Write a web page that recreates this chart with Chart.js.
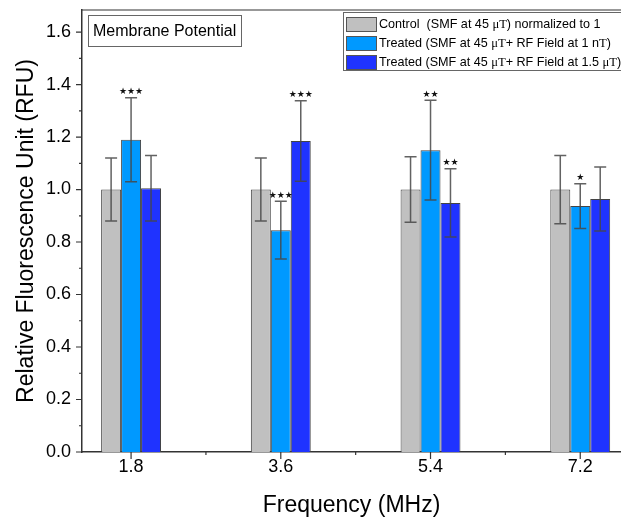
<!DOCTYPE html>
<html>
<head>
<meta charset="utf-8">
<script src="https://cdn.jsdelivr.net/npm/chart.js@4"></script>
<style>
  html, body { margin: 0; padding: 0; background: #fff; }
  #wrap { width: 621px; height: 522px; }
</style>
</head>
<body>
<div id="wrap"><canvas id="myChart" width="621" height="522"></canvas></div>
<script>
// values
const frequencies = [1.8, 3.6, 5.4, 7.2];
const controlMean = [1.0, 1.0, 1.0, 1.0];
const controlErr = [0.12, 0.12, 0.125, 0.13];
const nTMean = [1.19, 0.845, 1.15, 0.937];
const nTErr = [0.16, 0.11, 0.19, 0.085];
const uTMean = [1.005, 1.185, 0.949, 0.964];
const uTErr = [0.125, 0.153, 0.13, 0.122];
const controlStars = ['', '', '', ''];
const nTStars = ['***', '***', '**', '*'];
const uTStars = ['', '***', '**', ''];
const yTicks = [0, 0.2, 0.4, 0.6, 0.8, 1.0, 1.2, 1.4, 1.6];
const yMinorTicks = [0.1, 0.3, 0.5, 0.7, 0.9, 1.1, 1.3, 1.5];
const xMinorTicks = [2.7, 4.5, 6.3];

const SANS = '"Liberation Sans", Arial, sans-serif';
const SERIF = '"Liberation Serif", "Times New Roman", serif';
const AXIS = '#333';

const legendRows = [
  { color: '#c0c0c0', parts: [['Control  (SMF at 45 ', SANS], ['\u03bcT', SERIF], [') normalized to 1', SANS]] },
  { color: '#0099ff', parts: [['Treated (SMF at 45 ', SANS], ['\u03bcT', SERIF], ['+ RF Field at 1 n', SANS], ['T', SERIF], [')', SANS]] },
  { color: '#1f33ff', parts: [['Treated (SMF at 45 ', SANS], ['\u03bcT', SERIF], ['+ RF Field at 1.5 ', SANS], ['\u03bcT', SERIF], [')', SANS]] }
];

function series(means) {
  return means.map((v, i) => ({ x: frequencies[i], y: v }));
}

const errs = [controlErr, nTErr, uTErr];
const stars = [controlStars, nTStars, uTStars];

const extras = {
  id: 'extras',
  afterDatasetsDraw(chart) {
    const ctx = chart.ctx;
    const xs = chart.scales.x, ys = chart.scales.y;
    const area = chart.chartArea;
    ctx.save();
    // error bars
    chart.data.datasets.forEach((ds, di) => {
      const meta = chart.getDatasetMeta(di);
      meta.data.forEach((bar, i) => {
        const v = ds.data[i].y, e = errs[di][i];
        const yt = ys.getPixelForValue(v + e), yb = ys.getPixelForValue(v - e);
        ctx.strokeStyle = 'rgba(70,70,70,0.85)';
        ctx.lineWidth = 1.5;
        ctx.beginPath();
        ctx.moveTo(bar.x, yt); ctx.lineTo(bar.x, yb);
        ctx.moveTo(bar.x - 6, yt); ctx.lineTo(bar.x + 6, yt);
        ctx.moveTo(bar.x - 6, yb); ctx.lineTo(bar.x + 6, yb);
        ctx.stroke();
        const s = stars[di][i];
        if (s) {
          ctx.fillStyle = '#111';
          ctx.font = '9px "DejaVu Sans"';
          ctx.textAlign = 'center';
          ctx.textBaseline = 'middle';
          ctx.fillText(s.replace(/\*/g, '\u2605'), bar.x, yt - 6);
        }
      });
    });
    // tick marks
    ctx.strokeStyle = AXIS;
    ctx.lineWidth = 1.2;
    ctx.beginPath();
    yTicks.forEach(v => { const y = ys.getPixelForValue(v); ctx.moveTo(area.left - 6, y); ctx.lineTo(area.left, y); });
    yMinorTicks.forEach(v => { const y = ys.getPixelForValue(v); ctx.moveTo(area.left - 3, y); ctx.lineTo(area.left, y); });
    frequencies.forEach(v => { const x = xs.getPixelForValue(v); ctx.moveTo(x, area.bottom); ctx.lineTo(x, area.bottom + 7); });
    xMinorTicks.forEach(v => { const x = xs.getPixelForValue(v); ctx.moveTo(x, area.bottom); ctx.lineTo(x, area.bottom + 3); });
    // top frame
    ctx.moveTo(area.left, area.top); ctx.lineTo(area.right, area.top);
    ctx.stroke();

    // title box
    ctx.fillStyle = '#fff';
    ctx.strokeStyle = '#666';
    ctx.lineWidth = 1;
    ctx.fillRect(88.5, 15.5, 153, 31);
    ctx.strokeRect(88.5, 15.5, 153, 31);
    ctx.fillStyle = '#000';
    ctx.font = '16px ' + SANS;
    ctx.textAlign = 'left';
    ctx.textBaseline = 'middle';
    ctx.fillText('Membrane Potential', 93, 32);

    // legend
    ctx.fillStyle = '#fff';
    ctx.fillRect(343.5, 12.5, 290, 58);
    ctx.strokeStyle = '#666';
    ctx.strokeRect(343.5, 12.5, 290, 58);
    legendRows.forEach((row, r) => {
      const cy = 24 + r * 19;
      ctx.fillStyle = row.color;
      ctx.fillRect(346, cy - 7, 30, 14);
      ctx.strokeStyle = '#555';
      ctx.strokeRect(346.5, cy - 6.5, 30, 14);
      let x = 379;
      ctx.fillStyle = '#000';
      row.parts.forEach(([t, f]) => {
        ctx.font = '12.6px ' + f;
        ctx.fillText(t, x, cy + 0.5);
        x += ctx.measureText(t).width;
      });
    });
    ctx.restore();
  }
};

new Chart(document.getElementById('myChart').getContext('2d'), {
  type: 'bar',
  data: {
    datasets: [
      { label: 'Control', data: series(controlMean), backgroundColor: '#c0c0c0', borderColor: '#444', borderWidth: 1 },
      { label: 'Treated 1 nT', data: series(nTMean), backgroundColor: '#0099ff', borderColor: '#444', borderWidth: 1 },
      { label: 'Treated 1.5 uT', data: series(uTMean), backgroundColor: '#1f33ff', borderColor: '#444', borderWidth: 1 }
    ]
  },
  options: {
    responsive: false,
    animation: false,
    categoryPercentage: 0.4,
    barPercentage: 1.0,
    layout: { padding: { top: 10, right: 0, left: 0, bottom: 0 } },
    plugins: { legend: { display: false }, tooltip: { enabled: false } },
    scales: {
      x: {
        type: 'linear',
        offset: false,
        min: 1.21,
        max: 7.69,
        afterBuildTicks: s => { s.ticks = frequencies.map(v => ({ value: v })); },
        afterFit: s => { s.height = 70; s.paddingLeft = 0; s.paddingRight = 0; },
        grid: { display: false, drawTicks: false },
        border: { display: true, color: AXIS, width: 1.5 },
        ticks: { color: '#000', font: { family: SANS, size: 18 }, padding: 4, callback: v => v.toFixed(1), maxRotation: 0 },
        title: { display: true, text: 'Frequency (MHz)', color: '#000', font: { family: SANS, size: 23 }, padding: { top: 0, bottom: 3 } }
      },
      y: {
        min: 0,
        max: 1.684,
        afterBuildTicks: s => { s.ticks = yTicks.map(v => ({ value: v })); },
        afterFit: s => { s.width = 82; s.paddingTop = 0; s.paddingBottom = 0; },
        grid: { display: false, drawTicks: false },
        border: { display: true, color: AXIS, width: 1.5 },
        ticks: { color: '#000', font: { family: SANS, size: 18 }, padding: 11, callback: v => v.toFixed(1) },
        title: { display: true, text: 'Relative Fluorescence Unit (RFU)', color: '#000', font: { family: SANS, size: 23 }, padding: { top: 13, bottom: 0 } }
      }
    }
  },
  plugins: [extras]
});
</script>
</body>
</html>
